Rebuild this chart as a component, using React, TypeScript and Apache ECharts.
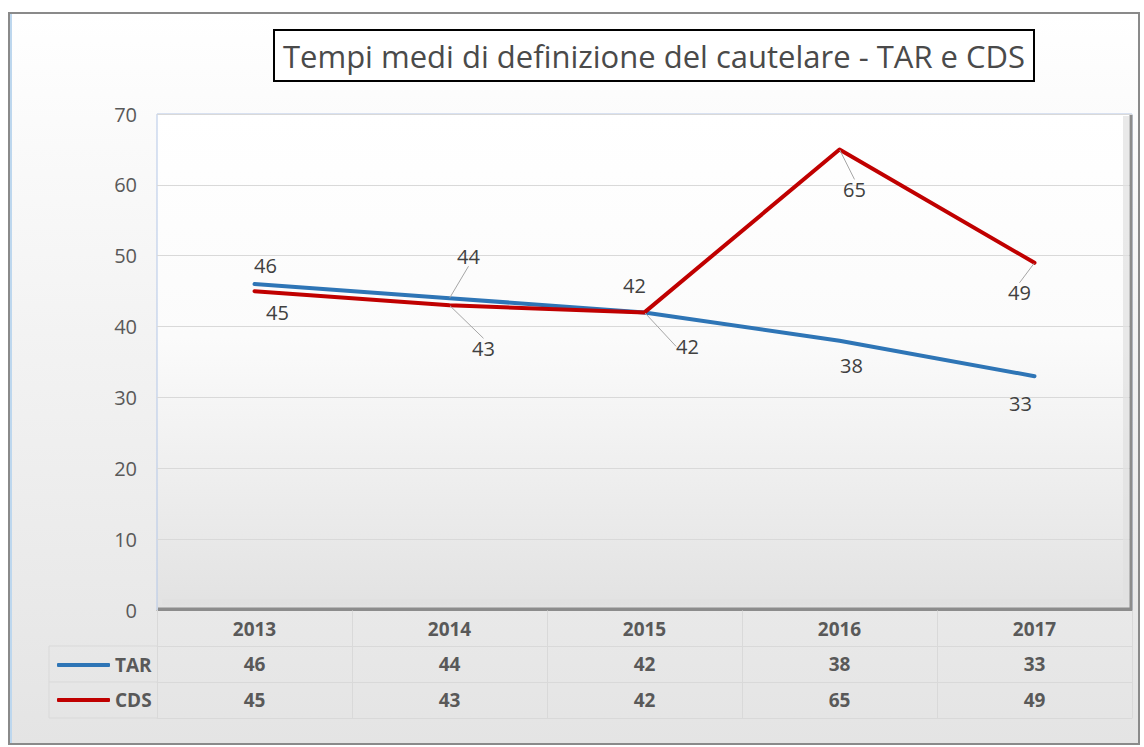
import React, { useEffect, useRef } from "react";
import * as echarts from "echarts";

const years = ["2013", "2014", "2015", "2016", "2017"];
const tarValues = [46, 44, 42, 38, 33];
const cdsValues = [45, 43, 42, 65, 49];
const titleText = "Tempi medi di definizione del cautelare - TAR e CDS";

// label placement (style): offsets from point, and whether a leader line is drawn
const tarLabelOffsets = [[11, -19], [19, -42], [-10, -27], [12, 25], [-14, 27]];
const tarLeaders = [false, true, false, false, false];
const cdsLabelOffsets = [[23, 21], [34, 43], [43, 34], [15, 40], [-15, 30]];
const cdsLeaders = [false, true, true, true, true];

const FONT = "'Open Sans', 'Noto Sans', sans-serif";
const TXT = "#595959";
const GRIDLINE = "#d9d9d9";

export default function App() {
  const ref = useRef<HTMLDivElement>(null);

  useEffect(() => {
    if (!ref.current) return;
    const chart = echarts.init(ref.current, null, { renderer: "svg" });

    const mkData = (vals: number[], leaders: boolean[]) =>
      vals.map((v, i) => ({
        value: v,
        labelLine: { show: leaders[i] },
      }));

    const labelStyle = {
      show: true,
      position: "inside" as const,
      fontFamily: FONT,
      fontSize: 20,
      color: "#404040",
    };

    const tableAxis = (data: string[], offset: number, showLabel: boolean) => ({
      type: "category" as const,
      data,
      position: "bottom" as const,
      offset,
      boundaryGap: true,
      axisLine: { show: true, lineStyle: { color: GRIDLINE, width: 1 } },
      axisTick: { show: showLabel, length: 36, interval: 0, lineStyle: { color: GRIDLINE } },
      axisLabel: {
        show: showLabel,
        interval: 0,
        margin: 8,
        fontFamily: FONT,
        fontWeight: "bold" as const,
        fontSize: 19,
        color: TXT,
      },
      splitLine: { show: false },
    });

    chart.setOption({
      animation: false,
      backgroundColor: "transparent",
      textStyle: { fontFamily: FONT },
      graphic: {
        elements: [
          {
            type: "rect",
            shape: { x: 274, y: 30, width: 760, height: 51 },
            style: { fill: "#ffffff", stroke: "#000000", lineWidth: 2 },
            z: 10,
          },
          {
            type: "text",
            x: 654,
            y: 56,
            style: {
              text: titleText,
              fontFamily: FONT,
              fontSize: 31,
              fill: "#4a4a4a",
              align: "center",
              verticalAlign: "middle",
            },
            z: 11,
          },
          // left column of the data table
          {
            type: "polyline",
            shape: { points: [[157, 646], [49, 646], [49, 718], [157, 718]] },
            style: { stroke: GRIDLINE, lineWidth: 1, fill: "none" },
            z: 5,
          },
          {
            type: "line",
            shape: { x1: 49, y1: 682, x2: 157, y2: 682 },
            style: { stroke: GRIDLINE, lineWidth: 1 },
            z: 5,
          },
          // 3D-like bevel on plot area right/bottom
          {
            type: "polyline",
            shape: { points: [[158, 609], [1131, 609], [1131, 115]] },
            style: { stroke: "#8c8c8c", lineWidth: 3, fill: "none" },
            z: 5,
          },
          {
            type: "polyline",
            shape: { points: [[162, 602], [1126, 602], [1126, 116]] },
            style: { stroke: "#e0e0e0", lineWidth: 6, fill: "none", opacity: 0.7 },
            z: 1,
          },
        ],
      },
      legend: {
        left: 52,
        top: 649,
        orient: "vertical",
        icon: "roundRect",
        itemWidth: 53,
        itemHeight: 4,
        itemGap: 13,
        selectedMode: false,
        textStyle: {
          fontFamily: FONT,
          fontWeight: "bold",
          fontSize: 19,
          color: TXT,
          lineHeight: 22,
        },
        data: ["TAR", "CDS"],
      },
      grid: {
        left: 157,
        right: 12,
        top: 114,
        bottom: 137,
        show: true,
        borderColor: "#b4c7e7",
        borderWidth: 1,
        backgroundColor: new echarts.graphic.LinearGradient(0, 0, 0, 1, [
          { offset: 0, color: "#ffffff" },
          { offset: 0.45, color: "#fbfbfb" },
          { offset: 1, color: "#e2e2e2" },
        ]),
      },
      xAxis: [
        {
          ...tableAxis(years, 0, true),
          axisLine: { show: true, lineStyle: { color: "#8c8c8c", width: 1 } },
          axisLabel: {
            show: true,
            interval: 0,
            margin: 9,
            fontFamily: FONT,
            fontWeight: "bold",
            fontSize: 19,
            color: TXT,
          },
        },
        tableAxis(tarValues.map(String), 36, true),
        tableAxis(cdsValues.map(String), 72, true),
        tableAxis(years, 108, false),
      ],
      yAxis: {
        type: "value",
        min: 0,
        max: 70,
        interval: 10,
        axisLine: { show: false },
        axisTick: { show: false },
        axisLabel: { margin: 20, fontFamily: FONT, fontSize: 20, color: TXT },
        splitLine: { lineStyle: { color: GRIDLINE, width: 1 } },
      },
      series: [
        {
          name: "TAR",
          type: "line",
          xAxisIndex: 0,
          data: mkData(tarValues, tarLeaders),
          symbol: "circle",
          symbolSize: 1,
          showSymbol: true,
          itemStyle: { color: "#2e75b6" },
          lineStyle: { color: "#2e75b6", width: 4, cap: "round", join: "round" },
          label: labelStyle,
          labelLine: { show: false, lineStyle: { color: "#a6a6a6", width: 1 } },
          labelLayout: (p: any) => ({
            dx: tarLabelOffsets[p.dataIndex][0],
            dy: tarLabelOffsets[p.dataIndex][1],
          }),
          z: 3,
        },
        {
          name: "CDS",
          type: "line",
          xAxisIndex: 0,
          data: mkData(cdsValues, cdsLeaders),
          symbol: "circle",
          symbolSize: 1,
          showSymbol: true,
          itemStyle: { color: "#c00000" },
          lineStyle: { color: "#c00000", width: 4, cap: "round", join: "round" },
          label: labelStyle,
          labelLine: { show: false, lineStyle: { color: "#a6a6a6", width: 1 } },
          labelLayout: (p: any) => ({
            dx: cdsLabelOffsets[p.dataIndex][0],
            dy: cdsLabelOffsets[p.dataIndex][1],
          }),
          z: 4,
        },
      ],
    });

    return () => chart.dispose();
  }, []);

  return (
    <div style={{ position: "fixed", left: 0, top: 0, width: 1144, height: 747, background: "#ffffff" }}>
      <div
        style={{
          position: "absolute",
          left: 8,
          top: 12,
          width: 1128,
          height: 729,
          border: "2px solid #8a8a8a",
          boxShadow: "inset 2px 0 0 #bdd7ee",
          background: "linear-gradient(to bottom, #ffffff 0%, #f4f4f4 40%, #e4e4e4 100%)",
        }}
      />
      <div ref={ref} style={{ position: "absolute", left: 0, top: 0, width: 1144, height: 747 }} />
    </div>
  );
}
